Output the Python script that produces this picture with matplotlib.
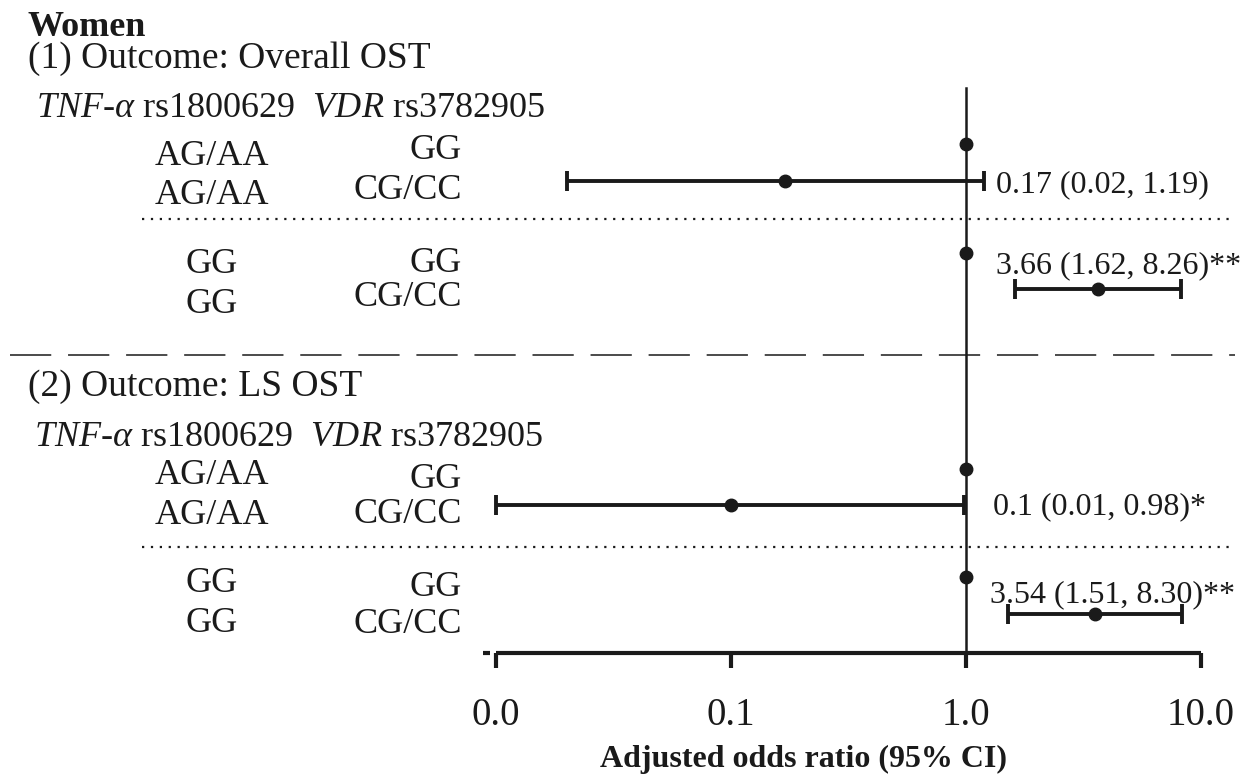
import numpy as np
import matplotlib
matplotlib.use("Agg")
import matplotlib.pyplot as plt

plt.rcParams["font.family"] = ["Liberation Serif", "DejaVu Serif"]
plt.rcParams["mathtext.fontset"] = "custom"
plt.rcParams["mathtext.rm"] = "Liberation Serif"
plt.rcParams["mathtext.it"] = "Liberation Serif:italic"
plt.rcParams["mathtext.bf"] = "Liberation Serif:bold"

# ── data ─────────────────────────────────────────────────────────────────────
tnf_geno = ["AG/AA", "AG/AA", "GG", "GG"]
vdr_geno = ["GG", "CG/CC", "GG", "CG/CC"]
outcomes = ["(1) Outcome: Overall OST", "(2) Outcome: LS OST"]

or_overall = [1.0, 0.17, 1.0, 3.66]
lo_overall = [None, 0.02, None, 1.62]
hi_overall = [None, 1.19, None, 8.26]
lab_overall = ["", "0.17 (0.02, 1.19)", "", "3.66 (1.62, 8.26)**"]

or_ls = [1.0, 0.1, 1.0, 3.54]
lo_ls = [None, 0.01, None, 1.51]
hi_ls = [None, 0.98, None, 8.30]
lab_ls = ["", "0.1 (0.01, 0.98)*", "", "3.54 (1.51, 8.30)**"]

xticks = [0.01, 0.1, 1.0, 10.0]
xticklabels = ["0.0", "0.1", "1.0", "10.0"]

# ── layout (pixel rows, y down) ──────────────────────────────────────────────
W, H, DPI = 1253, 776, 100
X0_PX, DECADE_PX = 496, 235          # where 0.01 sits and width of one decade
INK = "#1a1a1a"

sections = [
    dict(title_y=56, head_y=105, head_x=36, tnf_y=[153, 192, 261, 301],
         vdr_y=[147, 187, 260, 294], mark_y=[144, 181, 253, 289], dot_y=219,
         lab_pos=[None, (996, 182), None, (996, 263)],
         ors=or_overall, lo=lo_overall, hi=hi_overall, labs=lab_overall),
    dict(title_y=384, head_y=434, head_x=34, tnf_y=[472, 512, 580, 620],
         vdr_y=[476, 511, 584, 621], mark_y=[469, 505, 577, 614], dot_y=547,
         lab_pos=[None, (993, 504), None, (990, 592)],
         ors=or_ls, lo=lo_ls, hi=hi_ls, labs=lab_ls),
]

fig = plt.figure(figsize=(W / DPI, H / DPI), dpi=DPI)
ax = fig.add_axes([0, 0, 1, 1])
ax.set_xscale("log")
lx0 = -2 - X0_PX / DECADE_PX
ax.set_xlim(10 ** lx0, 10 ** (lx0 + W / DECADE_PX))
ax.set_ylim(H, 0)
ax.axis("off")


def px2x(px):
    return 10 ** (lx0 + px / DECADE_PX)


def put(px, cy, s, size, ha="left", weight="normal"):
    # cy is the middle of the capitals
    em = size * DPI / 72
    ax.text(px2x(px), cy + 0.33 * em, s, fontsize=size, ha=ha,
            va="baseline", fontweight=weight, color=INK)


put(28, 24, "Women", 26, weight="bold")
header = r"$\mathit{TNF}$-$\alpha$ rs1800629  $\mathit{VDR}$ rs3782905"

# reference line at OR = 1
ax.plot([1, 1], [88, 653], color=INK, lw=1.8, zorder=2)

for sec, title in zip(sections, outcomes):
    put(28, sec["title_y"], title, 27)
    put(sec["head_x"], sec["head_y"], header, 26)
    for i in range(4):
        put(212, sec["tnf_y"][i], tnf_geno[i], 26, ha="center")
        put(462, sec["vdr_y"][i], vdr_geno[i], 26, ha="right")
        y = sec["mark_y"][i]
        o, lo, hi = sec["ors"][i], sec["lo"][i], sec["hi"][i]
        if lo is None:
            ax.plot([o], [y], "o", color=INK, ms=9, zorder=3)
        else:
            ax.errorbar([o], [y], xerr=[[o - lo], [hi - o]], fmt="o", color=INK,
                        ms=9, lw=2.8, capsize=7, capthick=2.8, zorder=3)
        if sec["lab_pos"][i] is not None:
            lx, ly = sec["lab_pos"][i]
            put(lx, ly, sec["labs"][i], 23)
    ax.plot([px2x(142), px2x(1234)], [sec["dot_y"]] * 2, color=INK, lw=1.6,
            linestyle=(0, (1, 3)), zorder=1)

# section separator
ax.plot([px2x(10), px2x(1235)], [355, 355], color=INK, lw=1.1,
        linestyle=(0, (27, 11)), zorder=1)

# x axis
AX_Y = 653
ax.plot([xticks[0], xticks[-1]], [AX_Y, AX_Y], color=INK, lw=3, solid_capstyle="butt")
ax.plot([px2x(483), px2x(490)], [AX_Y, AX_Y], color=INK, lw=3, solid_capstyle="butt")
for t, tl in zip(xticks, xticklabels):
    ax.plot([t, t], [AX_Y, 668], color=INK, lw=3, solid_capstyle="butt")
    ax.text(t, 712 + 0.33 * 28 * DPI / 72, tl, fontsize=28, ha="center",
            va="baseline", color=INK)

put(804, 756, "Adjusted odds ratio (95% CI)", 23, ha="center", weight="bold")

fig.savefig("out.png", dpi=DPI, facecolor="white")
